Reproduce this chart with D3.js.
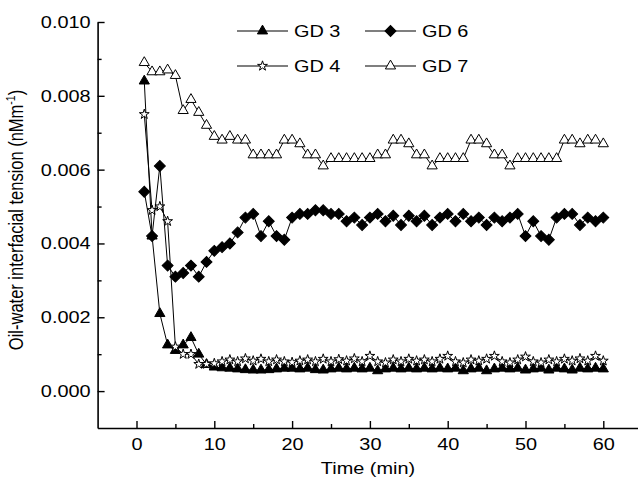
<!DOCTYPE html>
<html>
<head>
<meta charset="utf-8">
<script src="https://cdn.jsdelivr.net/npm/d3@7"></script>
<style>
  body { margin: 0; background: #fff; }
</style>
</head>
<body>
<div id="chart"></div>
<script>
/**
 * Data
 */
const times = [1, 2, 3, 4, 5, 6, 7, 8, 9, 10, 11, 12, 13, 14, 15, 16, 17, 18, 19, 20,
  21, 22, 23, 24, 25, 26, 27, 28, 29, 30, 31, 32, 33, 34, 35, 36, 37, 38, 39, 40,
  41, 42, 43, 44, 45, 46, 47, 48, 49, 50, 51, 52, 53, 54, 55, 56, 57, 58, 59, 60];

const gd3 = [0.0084, 0.0042, 0.0021, 0.00125, 0.0011, 0.00125, 0.00145, 0.0010, 0.00072, 0.00065,
  0.00063, 0.00062, 0.0006, 0.00058, 0.00057, 0.00057, 0.00058, 0.0006, 0.00062, 0.00062,
  0.0006, 0.00062, 0.00058, 0.00057, 0.0006, 0.00062, 0.0006, 0.00062, 0.0006, 0.00062,
  0.00055, 0.0006, 0.00062, 0.0006, 0.00062, 0.0006, 0.00062, 0.0006, 0.00062, 0.0006,
  0.00062, 0.00055, 0.0006, 0.00062, 0.00055, 0.0006, 0.00062, 0.0006, 0.00062, 0.00057,
  0.0006, 0.00062, 0.00057, 0.00062, 0.0006, 0.00057, 0.00062, 0.0006, 0.00062, 0.0006];

const gd4 = [0.0075, 0.0049, 0.0050, 0.0046, 0.0012, 0.0010, 0.0010, 0.00073, 0.00073, 0.00075,
  0.0008, 0.00085, 0.0008, 0.00088, 0.00082, 0.00087, 0.0008, 0.00085, 0.0008, 0.00078,
  0.00082, 0.00085, 0.0008, 0.00087, 0.0008, 0.00086, 0.00082, 0.00088, 0.0008, 0.00095,
  0.0008, 0.00077, 0.00085, 0.0008, 0.00087, 0.00082, 0.00085, 0.0008, 0.00087, 0.00095,
  0.0008, 0.00077, 0.00085, 0.00082, 0.00087, 0.00095, 0.0008, 0.00077, 0.00085, 0.00093,
  0.0008, 0.00077, 0.00085, 0.0008, 0.00087, 0.00082, 0.00088, 0.00082, 0.00095, 0.00082];

const gd6 = [0.0054, 0.0042, 0.0061, 0.0034, 0.0031, 0.0032, 0.0034, 0.0031, 0.0035, 0.0038,
  0.0039, 0.0040, 0.0043, 0.0047, 0.0048, 0.0042, 0.0046, 0.0042, 0.0041, 0.0047,
  0.0048, 0.0048, 0.0049, 0.0049, 0.0048, 0.0048, 0.0046, 0.0047, 0.0045, 0.0047,
  0.0048, 0.0046, 0.00475, 0.0045, 0.00475, 0.0046, 0.00475, 0.0045, 0.0047, 0.0048,
  0.0046, 0.0048, 0.0046, 0.0047, 0.0045, 0.0047, 0.0046, 0.0047, 0.0048, 0.0042,
  0.0046, 0.0042, 0.0041, 0.0047, 0.0048, 0.0048, 0.0045, 0.0047, 0.0046, 0.0047];

const gd7 = [0.0089, 0.00865, 0.00865, 0.0087, 0.00855, 0.0076, 0.0079, 0.00755, 0.0072, 0.0069,
  0.0068, 0.0069, 0.0068, 0.0068, 0.0064, 0.0064, 0.0064, 0.0064, 0.0068, 0.0068,
  0.0067, 0.0064, 0.0064, 0.0061, 0.0063, 0.0063, 0.0063, 0.0063, 0.0063, 0.0063,
  0.0064, 0.0064, 0.0068, 0.0068, 0.0067, 0.0064, 0.0064, 0.0061, 0.0063, 0.0063,
  0.0063, 0.0063, 0.0068, 0.0068, 0.0067, 0.0064, 0.0064, 0.0061, 0.0063, 0.0063,
  0.0063, 0.0063, 0.0063, 0.0063, 0.0068, 0.0068, 0.0067, 0.0068, 0.0068, 0.0067];

const xMajorTicks = [0, 10, 20, 30, 40, 50, 60];
const xMinorTicks = [5, 15, 25, 35, 45, 55];
const yMajorTicks = [0, 0.002, 0.004, 0.006, 0.008, 0.010];
const yMinorTicks = [0.001, 0.003, 0.005, 0.007, 0.009];

/**
 * Basic settings
 */
const canvasWidth = 638;
const canvasHeight = 478;
const stretch = "scale(1.17,1)";

const svg = d3.select("#chart")
  .append("svg")
  .attr("width", canvasWidth)
  .attr("height", canvasHeight)
  .style("font-family", "'Liberation Sans', Arial, sans-serif")
  .style("background", "#fff");

const xScale = d3.scaleLinear()
  .domain([-5, 65])
  .range([97.6, 642.2]);

const yScale = d3.scaleLinear()
  .domain([-0.001, 0.010])
  .range([428, 22]);

/**
 * Axes (ticks point inward)
 */
svg.append("g")
  .attr("transform", "translate(0," + yScale(-0.001) + ")")
  .call(d3.axisBottom(xScale).tickValues(xMajorTicks).tickSize(-7).tickSizeOuter(0).tickPadding(10));

svg.append("g")
  .attr("transform", "translate(0," + yScale(-0.001) + ")")
  .call(d3.axisBottom(xScale).tickValues(xMinorTicks).tickSize(-4).tickSizeOuter(0).tickFormat(""))
  .select(".domain").remove();

svg.append("g")
  .attr("transform", "translate(" + xScale(-5) + ",0)")
  .call(d3.axisLeft(yScale).tickValues(yMajorTicks).tickSize(-7).tickSizeOuter(0)
    .tickPadding(6).tickFormat(d3.format(".3f")));

svg.append("g")
  .attr("transform", "translate(" + xScale(-5) + ",0)")
  .call(d3.axisLeft(yScale).tickValues(yMinorTicks).tickSize(-4).tickSizeOuter(0).tickFormat(""))
  .select(".domain").remove();

svg.selectAll(".domain").attr("stroke-width", 1.6);
svg.selectAll(".tick line").attr("stroke-width", 1.4);
svg.selectAll(".tick text")
  .attr("font-size", 17)
  .attr("font-family", "'Liberation Sans', Arial, sans-serif")
  .attr("fill", "#000")
  .attr("transform", stretch);

// axis titles
svg.append("text")
  .attr("transform", "translate(368,474) " + stretch)
  .attr("text-anchor", "middle")
  .attr("font-size", 17)
  .text("Time (min)");

const yTitle = svg.append("text")
  .attr("transform", "translate(23,220) rotate(-90) scale(1,1.17)")
  .attr("text-anchor", "middle")
  .attr("font-size", 16.5);
yTitle.append("tspan").text("Oil-water interfacial tension (nMm");
yTitle.append("tspan").attr("dy", -7).attr("font-size", 10.5).text("-1");
yTitle.append("tspan").attr("dy", 7).text(")");

/**
 * Series
 */
const triangle = d3.symbol(d3.symbolTriangle, 45)();
const diamond = d3.symbol(d3.symbolSquare, 60)();
const star = d3.symbol(d3.symbolStar, 30)();

const seriesList = [
  { name: "GD 3", values: gd3, shape: triangle, fill: "#000", rotate: 0 },
  { name: "GD 4", values: gd4, shape: star, fill: "#fff", rotate: 0 },
  { name: "GD 6", values: gd6, shape: diamond, fill: "#000", rotate: 45 },
  { name: "GD 7", values: gd7, shape: triangle, fill: "#fff", rotate: 0 }
];

const line = d3.line()
  .x(function(d, i) { return xScale(times[i]); })
  .y(function(d) { return yScale(d); });

seriesList.forEach(function(s) {
  const g = svg.append("g");
  g.append("path")
    .datum(s.values)
    .attr("d", line)
    .attr("fill", "none")
    .attr("stroke", "#000")
    .attr("stroke-width", 1);

  g.selectAll("path.mark")
    .data(s.values)
    .enter()
    .append("path")
    .attr("class", "mark")
    .attr("d", s.shape)
    .attr("transform", function(d, i) {
      return "translate(" + xScale(times[i]) + "," + yScale(d) + ") rotate(" + s.rotate + ")";
    })
    .attr("fill", s.fill)
    .attr("stroke", "#000")
    .attr("stroke-width", 1);
});

/**
 * Legend
 */
const legendItems = [
  { s: seriesList[0], x: 237, y: 31 },
  { s: seriesList[2], x: 365, y: 31 },
  { s: seriesList[1], x: 237, y: 66 },
  { s: seriesList[3], x: 365, y: 66 }
];

const legend = svg.append("g").attr("class", "legend");
legendItems.forEach(function(item) {
  const lg = legend.append("g").attr("transform", "translate(" + item.x + "," + item.y + ")");
  lg.append("line")
    .attr("x1", 0).attr("x2", 51)
    .attr("stroke", "#000").attr("stroke-width", 1.2);
  lg.append("path")
    .attr("d", item.s.shape)
    .attr("transform", "translate(25.5,0) rotate(" + item.s.rotate + ")")
    .attr("fill", item.s.fill)
    .attr("stroke", "#000");
  lg.append("text")
    .attr("transform", "translate(57,6) " + stretch)
    .attr("font-size", 17)
    .text(item.s.name);
});
</script>
</body>
</html>
